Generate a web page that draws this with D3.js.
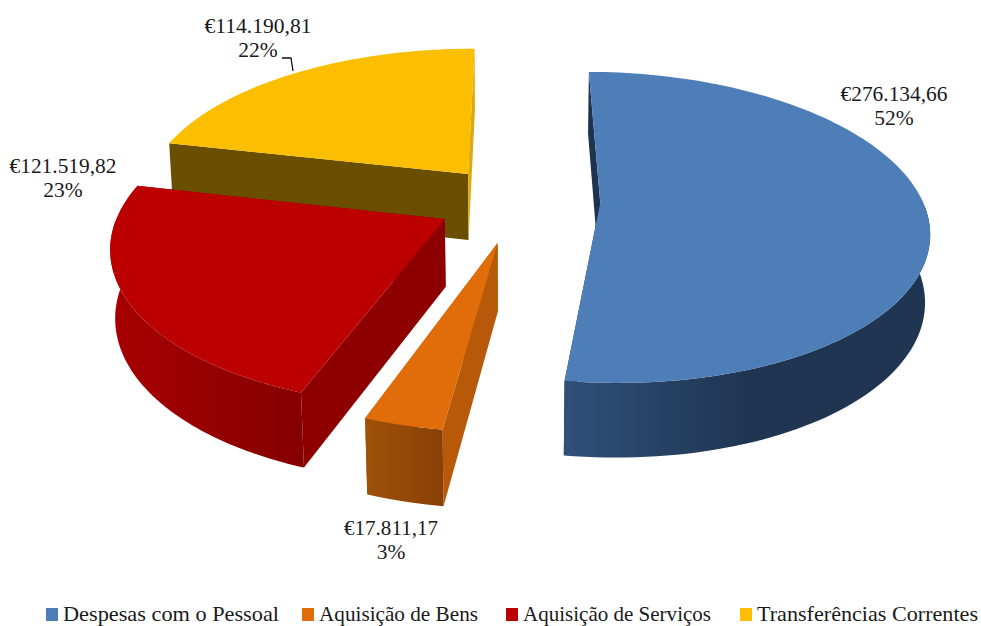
<!DOCTYPE html>
<html><head><meta charset="utf-8">
<script src="https://cdn.jsdelivr.net/npm/d3@7/dist/d3.min.js"></script>
<style>html,body{margin:0;padding:0;background:#fff}svg{display:block}text{font-family:"Liberation Serif",serif;fill:#1a1a1a}</style>
</head><body><svg id="c" width="981" height="626"></svg>
<script>
const categories = ["Despesas com o Pessoal","Aquisição de Bens","Aquisição de Serviços","Transferências Correntes"];
const values = [276134.66,17811.17,121519.82,114190.81];
const topColors = ["#4e7eb8","#e06c0a","#bc0000","#fbbe00"];
const startWall = ["#1d334f","#b8590a","#8e0000","#6a4f00"];
const endWall = ["#1d334f","#b8590a","#8e0000","#dcaa10"];
const outerFrom = ["#30507a","#a0530a","#a80000","#6a4f00"];
const outerTo = ["#1f3552","#8a4005","#850000","#6a4f00"];
const gradRange = [[562,750],[361,443],[108,305],[170,470]];
const explodeX = [90,-12,-64,-43];
const explodeY = [-6,-88,-40,57];
const radiusScale = [.985,.95,.985,1];
const labelAt = [[894,101,107],[391,535,94],[63,173,107],[258,33,107]];
const legendBox = [46,302,506,740];
const legendW = [216,159,188,221];

const R=327,k=.468,persp=.16,shrink=.012,x0=506,cy=200,zBase=27,zGain=40;
const svg=d3.select("#c");
const locale=d3.formatLocale({decimal:",",thousands:".",grouping:[3],currency:["€",""]});
const money=locale.format("$,.2f");
const total=d3.sum(values);
const rad=d=>d*Math.PI/180;
const arcs=d3.pie().sort(null).startAngle(rad(.3)).endAngle(rad(360.3))(values);
const project=(X,Y,Z)=>{
  const f0=1/(1+persp*Y/R), f=1/(1+persp*Y/R+shrink*Z);
  return [x0+4*f0+X*f, cy-Y*k*f0+Z*(zBase+zGain*f0)];
};
const line=d3.line();
const defs=svg.append("defs");
function rimAngles(a,n=120){
  const t=d3.scaleLinear().domain([0,n]).range([a.startAngle,a.endAngle]);
  return d3.range(n+1).map(t);
}
const rimPoint=(i,th,z)=>{const r=R*radiusScale[i];return project(explodeX[i]+r*Math.sin(th),explodeY[i]+r*Math.cos(th),z);};
[3,2,1,0].forEach(i=>{
  const a=arcs[i];
  const g=svg.append("g");
  const apexT=project(explodeX[i],explodeY[i],0), apexB=project(explodeX[i],explodeY[i],1);
  const angles=rimAngles(a);
  const top=angles.map(th=>rimPoint(i,th,0));
  const front=angles.filter(th=>Math.cos(th)<0);
  const gr=defs.append("linearGradient").attr("id","g"+i).attr("gradientUnits","userSpaceOnUse")
    .attr("x1",gradRange[i][0]).attr("x2",gradRange[i][1]).attr("y1",0).attr("y2",0);
  gr.append("stop").attr("offset",0).attr("stop-color",outerFrom[i]);
  gr.append("stop").attr("offset",1).attr("stop-color",outerTo[i]);
  g.append("path").attr("d",line([apexT,top[0],rimPoint(i,a.startAngle,1),apexB])+"Z").attr("fill",startWall[i]);
  g.append("path").attr("d",line([apexT,top[top.length-1],rimPoint(i,a.endAngle,1),apexB])+"Z").attr("fill",endWall[i]);
  if(front.length){
    const wall=front.map(th=>rimPoint(i,th,0)).concat(front.slice().reverse().map(th=>rimPoint(i,th,1)));
    g.append("path").attr("d",line(wall)+"Z").attr("fill",`url(#g${i})`);
  }
  g.append("path").attr("d",line([apexT].concat(top))+"Z").attr("fill",topColors[i]);
});
svg.append("path").attr("d",line([[282,58],[291,58],[293,71]])).attr("fill","none").attr("stroke","#111").attr("stroke-width",1.3);
values.forEach((v,i)=>{
  const [x,y,w]=labelAt[i];
  svg.append("text").attr("x",x).attr("y",y).attr("text-anchor","middle").attr("font-size",21.5).attr("textLength",w).attr("lengthAdjust","spacingAndGlyphs").text(money(v));
  svg.append("text").attr("x",x).attr("y",y+24).attr("text-anchor","middle").attr("font-size",21.5).text(Math.round(v/total*100)+"%");
});
categories.forEach((c,i)=>{
  svg.append("rect").attr("x",legendBox[i]).attr("y",608).attr("width",12).attr("height",13).attr("fill",topColors[i]);
  svg.append("text").attr("x",legendBox[i]+17).attr("y",621).attr("font-size",21).attr("textLength",legendW[i]).attr("lengthAdjust","spacingAndGlyphs").text(c);
});
</script></body></html>
